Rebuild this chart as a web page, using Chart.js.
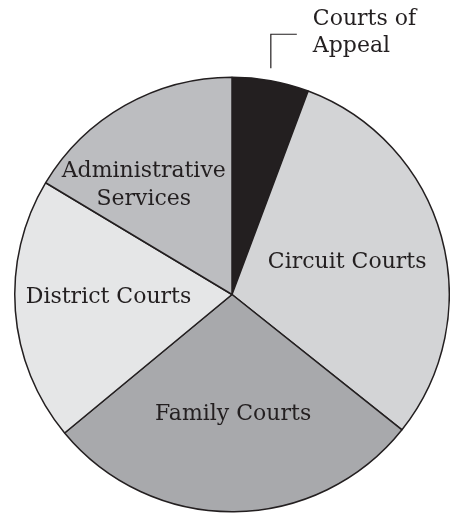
<!DOCTYPE html>
<html>
<head>
<meta charset="utf-8">
<script src="https://cdn.jsdelivr.net/npm/chart.js@4"></script>
<style>
  html, body { margin: 0; padding: 0; background: #fff; }
  #wrap { width: 450px; height: 513px; }
</style>
</head>
<body>
<div id="wrap"><canvas id="courtChart" width="450" height="513"></canvas></div>
<script>
// Share of the judicial budget, by branch (percent)
const branches = ['Courts of Appeal', 'Circuit Courts', 'Family Courts', 'District Courts', 'Administrative Services'];
const shares = [5.7, 30.0, 28.3, 19.6, 16.4];
const labelLines = [['Courts of', 'Appeal'], ['Circuit Courts'], ['Family Courts'], ['District Courts'], ['Administrative', 'Services']];
const sliceColors = ['#231f20', '#d3d4d6', '#a8a9ac', '#e5e6e7', '#bcbdc0'];

const ink = '#231f20';
const labelFont = '22px "DejaVu Serif"';

// where each label sits: fraction of radius along the slice's mid angle, plus a small nudge
const labelPlace = [
    null,
    { r: 0.55, dx: 0, dy: 0 },
    { r: 0.545, dx: 0, dy: 1 },
    { r: 0.57, dx: 0, dy: -7 },
    { r: 0.60, dx: -24, dy: 4 }
];

const sliceLabels = {
    id: 'sliceLabels',
    afterDatasetsDraw(chart) {
        const ctx = chart.ctx;
        const arcs = chart.getDatasetMeta(0).data;
        ctx.save();
        ctx.font = labelFont;
        ctx.fillStyle = ink;
        ctx.textBaseline = 'middle';
        const lineH = 28;
        arcs.forEach((arc, i) => {
            const place = labelPlace[i];
            if (!place) return;
            const mid = (arc.startAngle + arc.endAngle) / 2;
            const r = arc.outerRadius * place.r;
            const x = arc.x + Math.cos(mid) * r + place.dx;
            const y = arc.y + Math.sin(mid) * r + place.dy;
            const lines = labelLines[i];
            ctx.textAlign = 'center';
            lines.forEach((line, k) => {
                ctx.fillText(line, x, y + (k - (lines.length - 1) / 2) * lineH);
            });
        });

        // outside label for the small slice, with a bent leader line
        const arc = arcs[0];
        const mid = (arc.startAngle + arc.endAngle) / 2;
        const lx = arc.x + Math.cos(mid) * arc.outerRadius * 0.9 + 4;
        const topY = arc.y - arc.outerRadius - 43;
        const botY = arc.y - arc.outerRadius - 9;
        ctx.strokeStyle = ink;
        ctx.lineWidth = 1.2;
        ctx.beginPath();
        ctx.moveTo(lx, botY);
        ctx.lineTo(lx, topY);
        ctx.lineTo(lx + 26, topY);
        ctx.stroke();
        ctx.textAlign = 'left';
        labelLines[0].forEach((line, k) => {
            ctx.fillText(line, lx + 42, topY - 15 + k * 27);
        });
        ctx.restore();
    }
};

new Chart(document.getElementById('courtChart').getContext('2d'), {
    type: 'pie',
    data: {
        labels: branches,
        datasets: [{
            data: shares,
            backgroundColor: sliceColors,
            borderColor: ink,
            borderWidth: 1.5
        }]
    },
    options: {
        responsive: false,
        animation: false,
        events: [],
        layout: {
            padding: { top: 76, bottom: 0, left: 14, right: 0 }
        },
        plugins: {
            legend: { display: false },
            tooltip: { enabled: false }
        }
    },
    plugins: [sliceLabels]
});
</script>
</body>
</html>
